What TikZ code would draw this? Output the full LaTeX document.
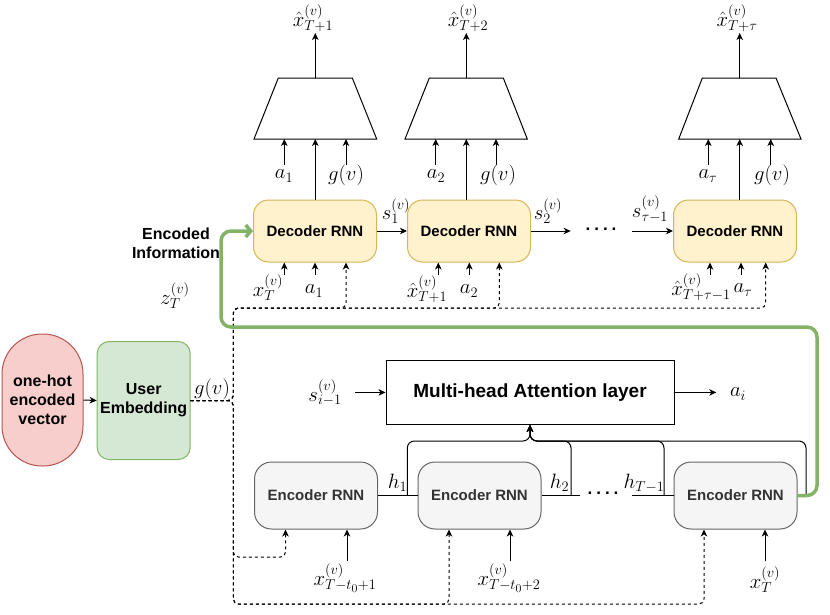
\documentclass[tikz,border=0pt]{standalone}
\usepackage[no-math]{fontspec}
\newfontfamily\arialf{Liberation Sans}
\usetikzlibrary{arrows.meta,calc}
\definecolor{decfill}{HTML}{FFF2CC}
\definecolor{decdraw}{HTML}{D6B656}
\definecolor{encfill}{HTML}{F5F5F5}
\definecolor{encdraw}{HTML}{666666}
\definecolor{enctext}{HTML}{333333}
\definecolor{ohfill}{HTML}{F8CECC}
\definecolor{ohdraw}{HTML}{B85450}
\definecolor{uefill}{HTML}{D5E8D4}
\definecolor{uedraw}{HTML}{82B366}
\definecolor{grn}{HTML}{82B366}
\tikzset{
 arr/.style={-{Stealth[length=7pt,width=6.5pt,inset=2pt]}, line width=1pt},
 dsh/.style={arr, dash pattern=on 3pt off 3pt, rounded corners=5pt},
 ln/.style={line width=1pt},
 br/.style={arr, rounded corners=7pt},
 box/.style={font=\arialf\bfseries\fontsize{15}{18}\selectfont, align=center, inner sep=0pt, line width=1pt},
 decbox/.style={box, rounded corners=15pt, fill=decfill, draw=decdraw, minimum width=123pt, minimum height=62pt},
 encbox/.style={box, rounded corners=17pt, fill=encfill, draw=encdraw, text=enctext, minimum width=123pt, minimum height=67pt},
 m/.style={font=\fontsize{20.74}{24}\selectfont, inner sep=0pt},
 trapz/.style={line width=1pt, line join=miter},
 grnl/.style={draw=grn, line width=3.5pt, rounded corners=10pt, -{Straight Barb[length=5pt,width=12pt]}},
}
\begin{document}
\begin{tikzpicture}[x=1pt,y=-1pt]
\useasboundingbox (0,0) rectangle (830,614);

% ---------- trapezoids ----------
\draw[trapz] (278.3,78) -- (352.3,78) -- (376.7,139) -- (254,139) -- cycle;
\draw[trapz] (429.3,78) -- (503.3,78) -- (527.3,139) -- (405,139) -- cycle;
\draw[trapz] (702.3,78) -- (776,78) -- (801,139) -- (678.7,139) -- cycle;
\coordinate (t1t) at (315.3,78); \coordinate (t1b) at (315.3,139);
\coordinate (t2t) at (466.3,78); \coordinate (t2b) at (466.3,139);
\coordinate (t3t) at (739.7,78); \coordinate (t3b) at (739.7,139);

% outputs
\node[m] (xo1) at (313,18) {$\hat{x}^{(v)}_{T+1}$};
\node[m] (xo2) at (468,18) {$\hat{x}^{(v)}_{T+2}$};
\node[m] (xo3) at (737,18) {$\hat{x}^{(v)}_{T+\tau}$};
\coordinate (o1) at (315.3,33); \coordinate (o2) at (466.3,33); \coordinate (o3) at (739.7,33);
\draw[arr] (t1t) -- (o1);
\draw[arr] (t2t) -- (o2);
\draw[arr] (t3t) -- (o3);

% trapezoid side inputs
\node[m] (ta1) at (284,176) {$a_1$};
\node[m] (tg1) at (346,175) {$g(v)$};
\node[m] (ta2) at (436,176) {$a_2$};
\node[m] (tg2) at (498,175) {$g(v)$};
\node[m] (ta3) at (708,176) {$a_\tau$};
\node[m] (tg3) at (772,175) {$g(v)$};
\coordinate (p1) at (284.3,165); \coordinate (p2) at (346,165);
\coordinate (p3) at (435.7,165); \coordinate (p4) at (496,165);
\coordinate (p5) at (708.3,165); \coordinate (p6) at (770.7,165);
\foreach \c/\t in {p1/t1b,p2/t1b,p3/t2b,p4/t2b,p5/t3b,p6/t3b}
  \draw[arr] (\c) -- (\c |- \t);

% ---------- decoders ----------
\node[decbox] (dec1) at (315,231) {Decoder RNN};
\node[decbox] (dec2) at (469,231) {Decoder RNN};
\node[decbox] (dec3) at (735,231) {Decoder RNN};
\draw[arr] (t1b |- dec1.north) -- (t1b);
\draw[arr] (t2b |- dec2.north) -- (t2b);
\draw[arr] (t3b |- dec3.north) -- (t3b);

\draw[arr] (dec1.east) -- (dec2.west);
\coordinate (s2e) at (570.7,231);
\coordinate (s3s) at (632,231);
\draw[arr] (dec2.east) -- (s2e);
\draw[arr] (s3s) -- (dec3.west);
\node[m] (s1) at (396,211) {$s^{(v)}_1$};
\node[m] (s2) at (548,211) {$s^{(v)}_2$};
\node[m] (s3) at (650,209) {$s^{(v)}_{\tau-1}$};
\node[font=\arialf\bfseries\fontsize{17}{19}\selectfont, inner sep=0pt] (dd) at (601,229) {.\kern4pt.\kern4pt.\kern4pt.};

% decoder inputs
\node[m] (dx1) at (268,288) {$x^{(v)}_{T}$};
\node[m] (da1) at (314,291) {$a_1$};
\node[m] (dx2) at (427,289) {$\hat{x}^{(v)}_{T+1}$};
\node[m] (da2) at (469,291) {$a_2$};
\node[m] (dx3) at (701,287) {$\hat{x}^{(v)}_{T+\tau-1}$};
\node[m] (da3) at (743,290) {$a_\tau$};
\coordinate (q1) at (284.3,275); \coordinate (q2) at (315,275);
\coordinate (q3) at (438.3,275); \coordinate (q4) at (469.3,275);
\coordinate (q5) at (710,275); \coordinate (q6) at (741,275);
\draw[arr] (q1) -- (q1 |- dec1.south);
\draw[arr] (q2) -- (q2 |- dec1.south);
\draw[arr] (q3) -- (q3 |- dec2.south);
\draw[arr] (q4) -- (q4 |- dec2.south);
\draw[arr] (q5) -- (q5 |- dec3.south);
\draw[arr] (q6) -- (q6 |- dec3.south);

\node[font=\arialf\bfseries\fontsize{16}{19}\selectfont, align=center, inner sep=0pt] (encinfo) at (176,243) {Encoded\\Information};
\node[m] (zt) at (175,296) {$z^{(v)}_{T}$};

% ---------- left nodes ----------
\node[box, font=\arialf\bfseries\fontsize{16}{19}\selectfont, draw=ohdraw, fill=ohfill, rounded corners=40pt, minimum width=81pt, minimum height=132pt] (oh) at (42.5,400) {one-hot\\encoded\\vector};
\node[box, font=\arialf\bfseries\fontsize{16}{19.3}\selectfont, draw=uedraw, fill=uefill, rounded corners=12pt, minimum width=93pt, minimum height=118pt] (ue) at (143.7,400.5) {User\\Embedding};
\draw[arr] (oh.east) -- (ue.west);
\node[m] (gv) at (212,389) {$g(v)$};

% ---------- attention ----------
\node[draw, line width=1pt, minimum width=288pt, minimum height=64pt, inner sep=0pt, font=\arialf\bfseries\fontsize{19}{22}\selectfont] (att) at (530,392.4) {Multi-head Attention layer};
\node[m] (si) at (325,392.8) {$s^{(v)}_{i-1}$};
\node[m] (ai) at (738,394) {$a_i$};
\coordinate (sia) at (355,392.4);
\coordinate (aia) at (716.3,392.4);
\draw[arr] (sia) -- (att.west);
\draw[arr] (att.east) -- (aia);

% ---------- encoders ----------
\node[encbox] (enc1) at (316,495.5) {Encoder RNN};
\node[encbox] (enc2) at (479.5,495.5) {Encoder RNN};
\node[encbox] (enc3) at (735.5,495.5) {Encoder RNN};
\coordinate (h2e) at (580,495.5);
\coordinate (h3s) at (632,495.5);
\draw[ln] (enc1.east) -- (enc2.west);
\draw[ln] (enc2.east) -- (h2e);
\draw[ln] (h3s) -- (enc3.west);
\node[m] (h1) at (397.5,483) {$h_1$};
\node[m] (h2) at (559.5,483) {$h_2$};
\node[m] (h3) at (644,483) {$h_{T-1}$};
\node[font=\arialf\bfseries\fontsize{17}{19}\selectfont, inner sep=0pt] (ed) at (603,493) {.\kern4pt.\kern4pt.\kern4pt.};

\coordinate (b1) at (407.3,495.5); \coordinate (b2) at (571,495.5);
\coordinate (b3) at (664,495.5); \coordinate (b4) at (806,495.5);
\draw[br] (b1) -- (407.3,441) -- (att.south |- 0,441) -- (att.south);
\draw[br] (b2) -- (571,441) -- (att.south |- 0,441) -- (att.south);
\draw[br] (b3) -- (664,441) -- (att.south |- 0,441) -- (att.south);
\draw[ln] (enc3.east) -- (b4);
\draw[br] (b4) -- (806,441) -- (att.south |- 0,441) -- (att.south);

% encoder inputs
\node[m] (ex1) at (345,578) {$x^{(v)}_{T-t_0+1}$};
\node[m] (ex2) at (509,578) {$x^{(v)}_{T-t_0+2}$};
\node[m] (ex3) at (765,580) {$x^{(v)}_{T}$};
\coordinate (r1) at (347,561); \coordinate (r2) at (510,561); \coordinate (r3) at (765,561);
\draw[arr] (r1) -- (r1 |- enc1.south);
\draw[arr] (r2) -- (r2 |- enc2.south);
\draw[arr] (r3) -- (r3 |- enc3.south);

% ---------- dashed g(v) distribution ----------
\coordinate (j) at (233.3,400.5);
\draw[dsh] (ue.east) -- (j) -- (233.3,308) -- (346,308) -- (346,308 |- dec1.south);
\draw[dsh] (ue.east) -- (j) -- (233.3,308) -- (499.3,308) -- (499.3,308 |- dec2.south);
\draw[dsh] (ue.east) -- (j) -- (233.3,308) -- (765.7,308) -- (765.7,308 |- dec3.south);
\draw[dsh] (ue.east) -- (j) -- (233.3,557) -- (285.5,557) -- (285.5,557 |- enc1.south);
\draw[dsh] (ue.east) -- (j) -- (233.3,604) -- (449,604) -- (449,604 |- enc2.south);
\draw[dsh] (ue.east) -- (j) -- (233.3,604) -- (704,604) -- (704,604 |- enc3.south);

% ---------- green encoded information ----------
\draw[grnl] (enc3.east) -- (817,495.5) -- (817,327) -- (221,327) -- (221,231) -- (dec1.west);
\end{tikzpicture}
\end{document}
